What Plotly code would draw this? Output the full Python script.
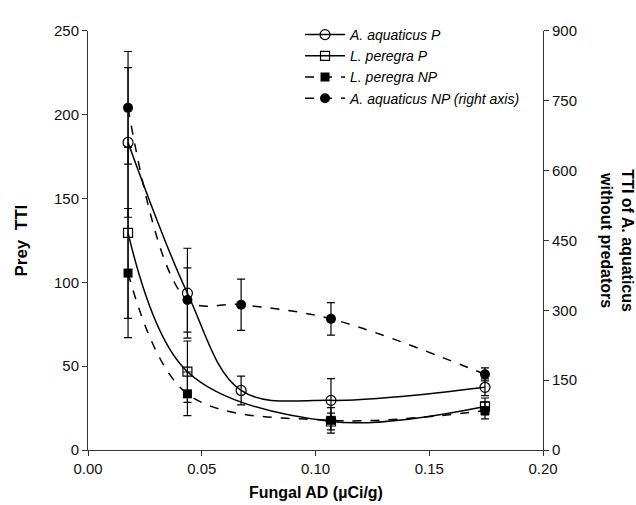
import plotly.graph_objects as go

# ---- data ----
x_aq = [0.0176, 0.0437, 0.0673, 0.1068, 0.1745]
x_lp = [0.0176, 0.0437, 0.1068, 0.1745]

aq_P = [183.4, 93.5, 35.5, 29.6, 37.4]
aq_P_err = [44.6, 26.8, 8.6, 12.9, 5.0]

lp_P = [129.5, 46.7, 17.0, 26.0]
lp_P_err = [51.0, 18.3, 5.0, 5.0]

lp_NP = [105.5, 33.5, 17.7, 23.5]
lp_NP_err = [38.5, 13.0, 7.6, 5.0]

aq_NP = [734.5, 322.0, 312.0, 281.5, 162.5]
aq_NP_err = [121.0, 69.0, 55.0, 35.0, 14.0]

x_ticks = [0.00, 0.05, 0.10, 0.15, 0.20]
y_ticks = [0, 50, 100, 150, 200, 250]
y2_ticks = [0, 150, 300, 450, 600, 750, 900]

FONT = "Liberation Sans, Arial, sans-serif"
BLACK = "#000000"

def err(vals):
    return dict(type="data", array=vals, visible=True, color=BLACK,
                thickness=1.2, width=4)

fig = go.Figure()

fig.add_trace(go.Scatter(
    x=x_aq, y=aq_P, name="A. aquaticus P", mode="lines+markers",
    line=dict(color=BLACK, width=1.5, shape="spline", smoothing=1.0),
    marker=dict(symbol="circle-open", size=10, color=BLACK, line=dict(width=1.2)),
    error_y=err(aq_P_err)))

fig.add_trace(go.Scatter(
    x=x_lp, y=lp_P, name="L. peregra P", mode="lines+markers",
    line=dict(color=BLACK, width=1.5, shape="spline", smoothing=1.0),
    marker=dict(symbol="square-open", size=9, color=BLACK, line=dict(width=1.2)),
    error_y=err(lp_P_err)))

fig.add_trace(go.Scatter(
    x=x_lp, y=lp_NP, name="L. peregra NP", mode="lines+markers",
    line=dict(color=BLACK, width=1.5, dash="dash", shape="spline", smoothing=1.0),
    marker=dict(symbol="square", size=9, color=BLACK),
    error_y=err(lp_NP_err)))

fig.add_trace(go.Scatter(
    x=x_aq, y=aq_NP, name="A. aquaticus NP (right axis)", mode="lines+markers",
    yaxis="y2",
    line=dict(color=BLACK, width=1.5, dash="dash", shape="spline", smoothing=1.0),
    marker=dict(symbol="circle", size=10, color=BLACK),
    error_y=err(aq_NP_err)))

axis_common = dict(showgrid=False, zeroline=False, showline=True,
                   linecolor="#333333", linewidth=1, ticks="outside",
                   ticklen=5, tickcolor="#333333",
                   tickfont=dict(family=FONT, size=15, color="#111111"))

# paper area: y from 10 px to 450 px (440 px); axes occupy 22..450
Y_DOM_TOP = 428 / 440

fig.update_layout(
    width=636, height=505,
    margin=dict(l=88, r=93, t=10, b=55),
    paper_bgcolor="white", plot_bgcolor="white",
    font=dict(family=FONT, color=BLACK),
    xaxis=dict(range=[0, 0.2], tickvals=x_ticks,
               ticktext=[f"{v:.2f}" for v in x_ticks], **axis_common),
    yaxis=dict(range=[0, 250], tickvals=y_ticks, domain=[0, Y_DOM_TOP],
               **axis_common),
    yaxis2=dict(range=[0, 900], tickvals=y2_ticks, overlaying="y",
                side="right", **axis_common),
    showlegend=True,
    legend=dict(x=0.466, y=1.0, xanchor="left", yanchor="top",
                bgcolor="rgba(0,0,0,0)", itemwidth=40, tracegroupgap=0,
                font=dict(family=FONT, size=14, color=BLACK, style="italic")),
    annotations=[
        dict(text="<b>Prey  TTI</b>", xref="paper", yref="paper",
             x=-0.145, y=0.486, xanchor="center", yanchor="middle",
             textangle=-90, showarrow=False,
             font=dict(family=FONT, size=17, color=BLACK)),
        dict(text="<b>TTI of A. aquaticus<br>without predators</b>",
             xref="paper", yref="paper", x=1.163, y=0.486,
             xanchor="center", yanchor="middle", textangle=90,
             showarrow=False,
             font=dict(family=FONT, size=16, color=BLACK)),
        dict(text="<b>Fungal AD (µCi/g)</b>", xref="paper", yref="paper",
             x=0.5, y=-0.075, xanchor="center", yanchor="top",
             showarrow=False,
             font=dict(family=FONT, size=16, color=BLACK)),
    ],
)

fig.write_html("out.html", config={"displayModeBar": False},
               post_script="document.body.style.margin='0';document.body.style.padding='0';")
